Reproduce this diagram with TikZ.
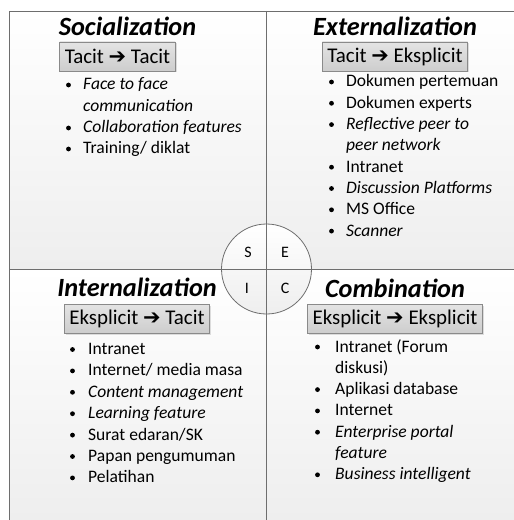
\documentclass[tikz,border=0pt]{standalone}
\usepackage{fontspec}
\setmainfont{Carlito}
\newfontfamily\symfont{DejaVu Sans}
\usetikzlibrary{shadows}
\definecolor{linegray}{HTML}{6E6E6E}
\definecolor{bgbot}{HTML}{EEEEEE}
\definecolor{boxtop}{HTML}{E4E4E4}
\definecolor{boxbot}{HTML}{CDCDCD}
\definecolor{boxline}{HTML}{8A8A8A}
\tikzset{
  quad/.style={top color=white, bottom color=bgbot, draw=none},
  divider/.style={draw=linegray, line width=0.9bp},
  title/.style={font=\fontsize{26.4}{30}\selectfont\bfseries\itshape, inner sep=0pt, anchor=base},
  modebox/.style={draw=boxline, line width=0.8bp, top color=boxtop, bottom color=boxbot,
     font=\fontsize{21}{24}\selectfont, minimum height=29bp, inner xsep=5bp, inner ysep=0pt,
     drop shadow={shadow xshift=1.5bp, shadow yshift=-1.5bp, opacity=0.25}},
  item/.style={font=\fontsize{17.6}{20}\selectfont, inner sep=0pt, anchor=base west},
  bullet/.style={fill=black},
  letter/.style={font=\fontsize{16}{18}\selectfont, inner sep=0pt}
}
\newcommand{\arr}{{\symfont\bfseries ➔}}
\begin{document}
\begin{tikzpicture}[x=1bp,y=-1bp]
\useasboundingbox (0,0) rectangle (514,520);
% backgrounds
\fill[quad] (9,11) rectangle (266,269);
\fill[quad] (266,11) rectangle (514,269);
\fill[quad] (9,269) rectangle (266,520);
\fill[quad] (266,269) rectangle (514,520);
% frame and dividers
\draw[divider] (514,11) -- (9,11) -- (9,520);
\draw[divider] (266,11) -- (266,520);
\draw[divider] (9,269) -- (514,269);
% centre circle
\draw[draw=linegray, line width=0.8bp, top color=white, bottom color=bgbot] (266.5,269) circle (45);
\draw[divider] (266.5,224) -- (266.5,314);
\draw[divider] (221.5,269) -- (311.5,269);
\node[letter] (S) at (248,252) {S};
\node[letter] (E) at (285,252) {E};
\node[letter] (I) at (247,288) {I};
\node[letter] (C) at (285,288) {C};

% Socialization
\node[title] (t1) at (127.5,36) {Socialization};
\node[modebox] (b1) at (117.5,56.5) {Tacit \arr{} Tacit};
\node[item] (s1) at (83,90) {\itshape Face to face};
\node[item] (s2) at (83,111.5) {\itshape communication};
\node[item] (s3) at (83,133) {\itshape Collaboration features};
\node[item] (s4) at (83,154) {Training/ diklat};
\foreach \y in {85,128,149} \fill[bullet] (68.5,\y) circle (2.4);

% Externalization
\node[title] (t2) at (395,36) {Externalization};
\node[modebox] (b2) at (395,56.5) {Tacit \arr{} Eksplicit};
\node[item] (e1) at (346,87) {Dokumen pertemuan};
\node[item] (e2) at (346,108.3) {Dokumen experts};
\node[item] (e3) at (346,129.6) {\itshape Reflective peer to};
\node[item] (e4) at (346,150.9) {\itshape peer network};
\node[item] (e5) at (346,172.2) {Intranet};
\node[item] (e6) at (346,193.5) {\itshape Discussion Platforms};
\node[item] (e7) at (346,214.8) {MS Office};
\node[item] (e8) at (346,236.1) {\itshape Scanner};
\foreach \y in {82,103.3,124.6,167.2,188.5,209.8,231.1} \fill[bullet] (331.5,\y) circle (2.4);

% Internalization
\node[title] (t3) at (137,296) {Internalization};
\node[modebox] (b3) at (137,318.5) {Eksplicit \arr{} Tacit};
\node[item] (i1) at (88,354.5) {Intranet};
\node[item] (i2) at (88,375.9) {Internet/ media masa};
\node[item] (i3) at (88,397.3) {\itshape Content management};
\node[item] (i4) at (88,418.7) {\itshape Learning feature};
\node[item] (i5) at (88,440.1) {Surat edaran/SK};
\node[item] (i6) at (88,461.5) {Papan pengumuman};
\node[item] (i7) at (88,482.9) {Pelatihan};
\foreach \y in {349.5,370.9,392.3,413.7,435.1,456.5,477.9} \fill[bullet] (72.5,\y) circle (2.4);

% Combination
\node[title] (t4) at (395,297) {Combination};
\node[modebox] (b4) at (395,318.5) {Eksplicit \arr{} Eksplicit};
\node[item] (c1) at (335,352) {Intranet (Forum};
\node[item] (c2) at (335,373.3) {diskusi)};
\node[item] (c3) at (335,394.6) {Aplikasi database};
\node[item] (c4) at (335,415.9) {Internet};
\node[item] (c5) at (335,437.2) {\itshape Enterprise portal};
\node[item] (c6) at (335,458.5) {\itshape feature};
\node[item] (c7) at (335,479.8) {\itshape Business intelligent};
\foreach \y in {347,389.6,410.9,432.2,474.8} \fill[bullet] (317.5,\y) circle (2.4);
\end{tikzpicture}
\end{document}
